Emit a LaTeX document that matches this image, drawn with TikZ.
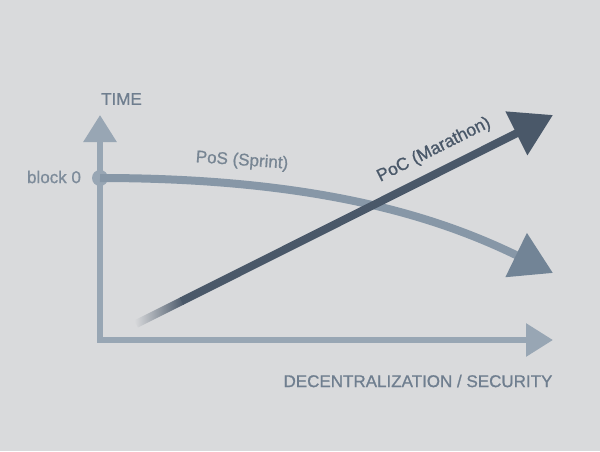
\documentclass[tikz,border=0pt]{standalone}
\usepackage{fontspec}
\setmainfont{Liberation Sans}
\newfontfamily\labelfont{Liberation Sans}[FakeBold=0.9]
\usepackage{tikz}
\usetikzlibrary{positioning}
\usetikzlibrary{arrows.meta}
\usetikzlibrary{calc}

\definecolor{bgc}{HTML}{D9DADC}
\definecolor{axisc}{HTML}{98A6B4}
\definecolor{posc}{HTML}{8797A7}
\definecolor{posarrowc}{HTML}{728496}
\definecolor{pocc}{HTML}{4A5869}
\definecolor{labelc}{HTML}{6F7E8F}

\begin{document}
\begin{tikzpicture}[x=1pt, y=-1pt,
    axis/.style={draw=axisc, line width=6pt, line join=miter,
      {Triangle[width=32pt,length=27pt]}-{Triangle[width=32pt,length=27pt]}},
    label/.style={text=labelc, font=\labelfont\fontsize{17}{20}\selectfont, inner sep=0pt}]
  \fill[bgc] (0,0) rectangle (600,451);

  \coordinate (origin) at (100,340);
  \coordinate (time end) at (100,115);
  \coordinate (dec end) at (553,340);
  \coordinate (pos end) at (553,273);
  \coordinate (poc start) at (136,324);
  \coordinate (poc end) at (553,115);

  \node at (121.5,99) [label] (time) {TIME};
  \node at (54,177) [label, text=labelc!90!white] (block) {block 0};
  \node at (418,381) [label] (dec) {DECENTRALIZATION / SECURITY};
  \node at (242,161) [label, rotate=-4, text=posc!88!black] (pos label) {PoS (Sprint)};
  \node at (434,150) [label, rotate=26.6, text=pocc, font=\labelfont\fontsize{17.5}{20}\selectfont] (poc label) {PoC (Marathon)};

  \draw[axis] (time end) -- (origin) -- (dec end);

  \node at (100,178) [circle, fill=axisc, minimum size=16pt, inner sep=0pt] (block0) {};
  \draw[-{Triangle[width=47pt,length=41pt,fill=posarrowc,color=posarrowc]}, posc, line width=8pt]
    (block0.center) .. controls (320,178) and (440,218) .. (pos end);

  \node at (poc start) [anchor=west, rotate=26.6, minimum width=52pt, minimum height=8pt,
    inner sep=0pt, left color=bgc, right color=pocc] (poc tail) {};
  \draw[-{Triangle[width=47pt,length=41pt]}, pocc, line width=8pt] ($(poc tail.east)!-1.5pt!(poc end)$) -- (poc end);
\end{tikzpicture}
\end{document}
